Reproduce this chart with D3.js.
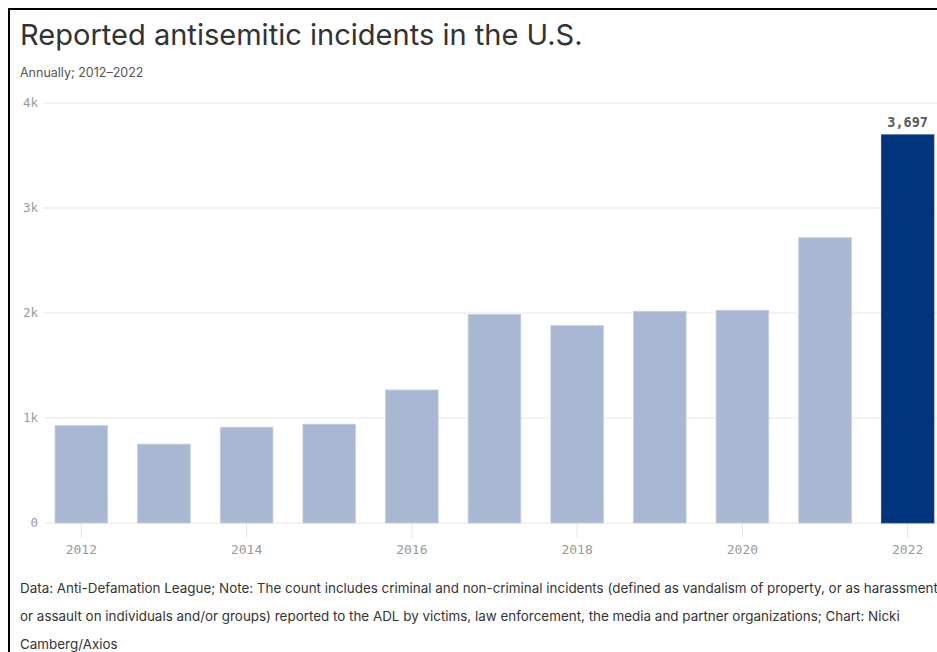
<!DOCTYPE html>
<html>
<head>
<meta charset="utf-8">
<script src="https://cdn.jsdelivr.net/npm/d3@7"></script>
<style>
  html, body { margin: 0; padding: 0; background: #fff; }
  svg { display: block; }
</style>
</head>
<body>
<svg id="chart" width="937" height="652"></svg>
<script>
const years = ["2012","2013","2014","2015","2016","2017","2018","2019","2020","2021","2022"];
const incidents = [927, 751, 912, 941, 1267, 1986, 1879, 2016, 2026, 2717, 3697];
const yTicks = [0, 1000, 2000, 3000, 4000];
const yTickLabels = ["0", "1k", "2k", "3k", "4k"];
const xTickYears = ["2012","2014","2016","2018","2020","2022"];
const highlightYear = "2022";
const titleText = "Reported antisemitic incidents in the U.S.";
const subtitleText = "Annually; 2012\u20132022";
const footLines = [
  "Data: Anti-Defamation League; Note: The count includes criminal and non-criminal incidents (defined as vandalism of property, or as harassment",
  "or assault on individuals and/or groups) reported to the ADL by victims, law enforcement, the media and partner organizations; Chart: Nicki",
  "Camberg/Axios"
];

const data = years.map((y, i) => ({ year: y, value: incidents[i] }));
const svg = d3.select("#chart");
const W = 937, H = 652;

const plotLeft = 43, plotTop = 103, plotBottom = 523;

const x = d3.scaleBand()
  .domain(years)
  .range([55, 934])
  .paddingInner(0.363)
  .paddingOuter(0);
const y = d3.scaleLinear().domain([0, 4000]).range([plotBottom, plotTop]);

const mono = "'DejaVu Sans Mono', 'Liberation Mono', monospace";
const sans = "Inter, 'Open Sans', Roboto, sans-serif";

// gridlines
svg.append("g").selectAll("line").data(yTicks).join("line")
  .attr("x1", plotLeft).attr("x2", W)
  .attr("y1", d => y(d)).attr("y2", d => y(d))
  .attr("stroke", "#e6e6e6").attr("stroke-width", 1);

// y labels
svg.append("g").selectAll("text").data(yTicks).join("text")
  .attr("x", 38).attr("y", d => y(d)).attr("dy", "0.35em")
  .attr("text-anchor", "end")
  .attr("font-family", mono).attr("font-size", 12.5).attr("fill", "#9a9a9a")
  .text((d, i) => yTickLabels[i]);

// x ticks
const xt = svg.append("g");
xt.selectAll("line").data(xTickYears).join("line")
  .attr("x1", d => x(d) + x.bandwidth() / 2).attr("x2", d => x(d) + x.bandwidth() / 2)
  .attr("y1", plotBottom).attr("y2", plotBottom + 15)
  .attr("stroke", "#e3e3e3").attr("stroke-width", 1);
xt.selectAll("text").data(xTickYears).join("text")
  .attr("x", d => x(d) + x.bandwidth() / 2).attr("y", 549).attr("dy", "0.35em")
  .attr("text-anchor", "middle")
  .attr("font-family", mono).attr("font-size", 13).attr("fill", "#999")
  .text(d => d);

// bars
svg.append("g").selectAll("rect").data(data).join("rect")
  .attr("x", d => x(d.year)).attr("width", x.bandwidth())
  .attr("y", d => y(d.value)).attr("height", d => y(0) - y(d.value))
  .attr("fill", d => d.year === highlightYear ? "#00347d" : "#a8b8d2")
  .attr("stroke", d => d.year === highlightYear ? "#1a4a8c" : "#c3cfe2")
  .attr("stroke-width", 0.8);

// value label
const hd = data.find(d => d.year === highlightYear);
svg.append("text")
  .attr("x", x(hd.year) + x.bandwidth() / 2).attr("y", y(hd.value) - 8)
  .attr("text-anchor", "middle")
  .attr("font-family", mono).attr("font-size", 13.5).attr("font-weight", "bold").attr("fill", "#5a5a5a")
  .text(d3.format(",")(hd.value));

// title
const title = svg.append("text").attr("x", 20).attr("y", 45)
  .attr("font-family", sans).attr("font-size", 30).attr("font-weight", 400).attr("fill", "#333")
  .text(titleText);
const tw = title.node().getComputedTextLength();
title.attr("font-size", 30 * 563 / tw);

svg.append("text").attr("x", 20).attr("y", 77)
  .attr("font-family", sans).attr("font-size", 12.5).attr("fill", "#555")
  .text(subtitleText);

// footnote
const foot = svg.append("g");
const fl = foot.selectAll("text").data(footLines).join("text")
  .attr("x", 20).attr("y", (d, i) => 593 + i * 28)
  .attr("font-family", sans).attr("font-size", 13.5).attr("fill", "#333")
  .text(d => d);
const l2 = fl.nodes()[1].getComputedTextLength();
fl.attr("font-size", 13.5 * 880 / l2);

// frame border (left and top)
svg.append("line").attr("x1", 9).attr("x2", 9).attr("y1", 8).attr("y2", H).attr("stroke", "#000").attr("stroke-width", 2);
svg.append("line").attr("x1", 8).attr("x2", W).attr("y1", 9).attr("y2", 9).attr("stroke", "#000").attr("stroke-width", 2);
</script>
</body>
</html>
